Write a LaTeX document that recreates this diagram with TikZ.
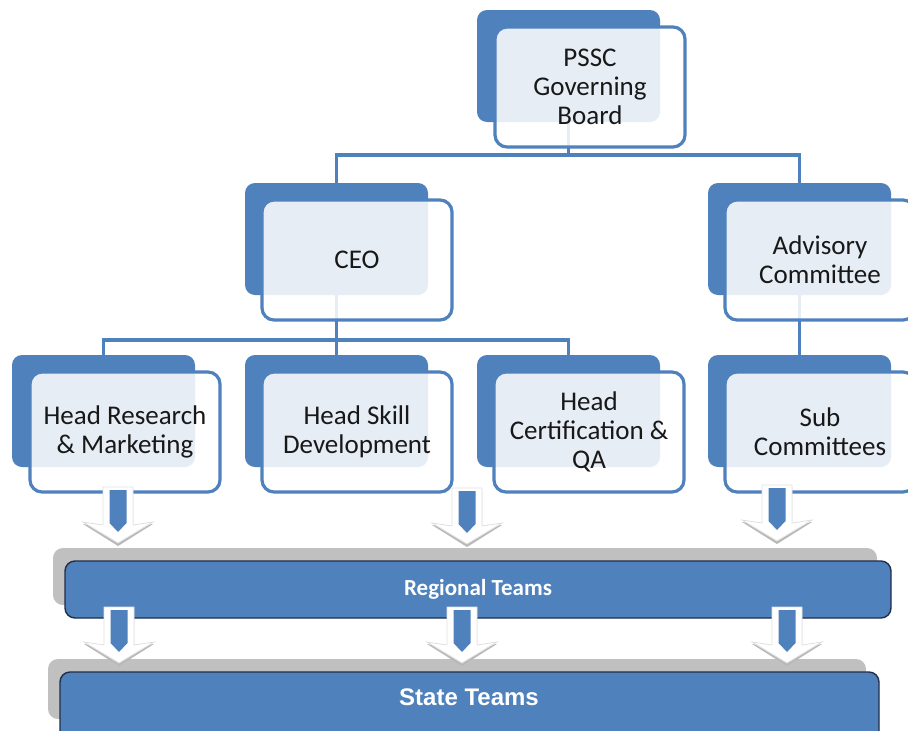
\documentclass[tikz,border=0pt]{standalone}
\usepackage{fontspec}
\setmainfont{Carlito}
\newfontfamily\arialfont{Liberation Sans}
\definecolor{accblue}{RGB}{79,129,189}
\definecolor{barborder}{RGB}{32,46,72}
\definecolor{shadowgray}{RGB}{192,192,192}
\definecolor{txt}{RGB}{24,24,24}
\tikzset{
  backbox/.style={fill=accblue, rounded corners=10pt, minimum width=183pt, minimum height=112pt, anchor=north west, inner sep=0pt, outer sep=0pt},
  frontbox/.style={draw=accblue, line width=3.2pt, fill=white, fill opacity=0.86, text opacity=1, rounded corners=12pt, minimum width=190pt, minimum height=120pt, anchor=north west, text=txt, align=center, font=\fontsize{27}{29}\selectfont, inner sep=0pt, outer sep=0pt},
  conn/.style={draw=accblue, line width=3.2pt},
  barshadow/.style={fill=shadowgray, rounded corners=10pt, anchor=north west, inner sep=0pt, outer sep=0pt},
  bar/.style={fill=accblue, draw=barborder, line width=1.4pt, rounded corners=10pt, anchor=north west, inner sep=0pt, outer sep=0pt, text=white},
}
\newcommand\dnarrow[2]{%
  \begin{scope}[shift={(#1,#2)}]
    \path[fill=black!28] (-15,2)--(15,2)--(15,40)--(35,37)--(0,59)--(-35,37)--(-15,40)--cycle;
    \path[fill=white, draw=black!12, line width=0.8pt] (-15,0)--(15,0)--(15,38)--(35,35)--(0,56)--(-35,35)--(-15,38)--cycle;
    \fill[accblue] (-8.5,3)--(8.5,3)--(8.5,36)--(0,45)--(-8.5,36)--cycle;
  \end{scope}}
\begin{document}
\begin{tikzpicture}[x=1pt,y=-1pt]
\useasboundingbox (0,0) rectangle (908,731);
\clip (0,0) rectangle (908,731);
\fill[white] (0,0) rectangle (908,731);

% back boxes
\node[backbox] (pssc-b) at (477,10) {};
\node[backbox] (ceo-b) at (245,183) {};
\node[backbox] (adv-b) at (708,183) {};
\node[backbox] (hr-b) at (12,355) {};
\node[backbox] (hs-b) at (245,355) {};
\node[backbox] (hc-b) at (477,355) {};
\node[backbox] (sub-b) at (708,355) {};

% connectors
\draw[conn] (pssc-b.south) -- ++(0,33) -| (ceo-b.north);
\draw[conn] (pssc-b.south) -- ++(0,33) -| (adv-b.north);
\draw[conn] (ceo-b.south) -- ++(0,45) -| (hr-b.north);
\draw[conn] (ceo-b.south) -- (hs-b.north);
\draw[conn] (ceo-b.south) -- ++(0,45) -| (hc-b.north);
\draw[conn] (adv-b.south) -- (sub-b.north);

% front boxes
\node[frontbox] (pssc) at (495,27) {PSSC\\Governing\\Board};
\node[frontbox] (ceo) at (262,200) {CEO};
\node[frontbox] (adv) at (725,200) {Advisory\\Committee};
\node[frontbox] (hr) at (30,372) {Head Research\\\& Marketing};
\node[frontbox] (hs) at (262,372) {Head Skill\\Development};
\node[frontbox] (hc) at (494,372) {Head\\Certification \&\\QA};
\node[frontbox] (sub) at (725,372) {Sub\\Committees};

% bars
\node[barshadow, minimum width=824pt, minimum height=57pt] (reg-s) at (53,548) {};
\node[bar, minimum width=826pt, minimum height=57pt, font=\fontsize{23}{26}\selectfont\bfseries] (reg) at (65,561) {Regional Teams};
\node[barshadow, minimum width=818pt, minimum height=60pt] (state-s) at (48,659) {};
\node[bar, minimum width=819pt, minimum height=70pt] (state) at (60,672) {};
\node[text=white, font=\arialfont\fontsize{24}{28}\selectfont\bfseries] (state-t) at (469,697) {State Teams};

% block arrows
\dnarrow{118}{487}
\dnarrow{467}{488}
\dnarrow{777}{485}
\dnarrow{119}{607}
\dnarrow{462}{607}
\dnarrow{787}{607}
\end{tikzpicture}
\end{document}
